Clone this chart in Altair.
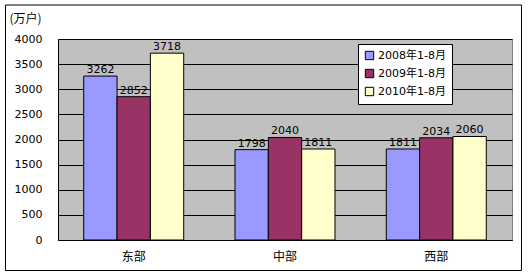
import altair as alt
import pandas as pd

regions = ["东部", "中部", "西部"]
series = ["2008年1-8月", "2009年1-8月", "2010年1-8月"]
values = {
    "2008年1-8月": [3262, 1798, 1811],
    "2009年1-8月": [2852, 2040, 2034],
    "2010年1-8月": [3718, 1811, 2060],
}
colors = ["#9999FF", "#993366", "#FFFFCC"]
y_ticks = [0, 500, 1000, 1500, 2000, 2500, 3000, 3500, 4000]

rows = []
for s in series:
    for r, v in zip(regions, values[s]):
        rows.append({"region": r, "series": s, "value": v})
df = pd.DataFrame(rows)

FONT = "DejaVu Sans, Noto Sans CJK SC"

x_enc = alt.X("region:N", sort=regions,
              scale=alt.Scale(paddingInner=0.339, paddingOuter=0.17),
              axis=alt.Axis(title=None, labelAngle=0, ticks=False, labelPadding=11,
                            labelFontSize=12, labelFont="Noto Sans CJK SC",
                            labelColor="#000000", domainColor="#000000", grid=False))
xoff = alt.XOffset("series:N", sort=series)
y_enc = alt.Y("value:Q", scale=alt.Scale(domain=[0, 4000], nice=False),
              axis=alt.Axis(values=y_ticks, format="d", labelOverlap=False,
                            title="(万户)", titleAngle=0,
                            titleX=-49, titleY=-17, titleAlign="left",
                            titleBaseline="alphabetic",
                            titleFont="Noto Sans CJK SC", titleFontSize=12,
                            titleFontWeight="normal", titleColor="#000000",
                            ticks=False, labelPadding=16, labelFontSize=11,
                            labelFont="DejaVu Sans", labelColor="#000000",
                            domainColor="#000000", gridColor="#000000",
                            gridOpacity=1, gridWidth=1))

bars = alt.Chart(df).mark_bar(stroke="#000000", strokeWidth=1, opacity=1).encode(
    x=x_enc, xOffset=xoff, y=y_enc,
    color=alt.Color("series:N", sort=series,
                    scale=alt.Scale(domain=series, range=colors),
                    legend=alt.Legend(title=None, orient="none", legendX=300, legendY=5,
                                      fillColor="#FFFFFF", strokeColor="#000000",
                                      padding=6, symbolType="square", symbolSize=70,
                                      symbolStrokeColor="#000000", symbolStrokeWidth=1,
                                      labelFont=FONT, labelFontSize=11,
                                      labelColor="#000000", rowPadding=5, labelOffset=3,
                                      cornerRadius=0))
)

labels = alt.Chart(df).mark_text(baseline="bottom", dy=-1, fontSize=11,
                                 font="DejaVu Sans", color="#000000").encode(
    x=x_enc, xOffset=xoff, y=y_enc,
    text="value:Q")

frame = alt.Chart(pd.DataFrame({"a": [0]})).mark_rect(
    fill=None, stroke="#000000", strokeWidth=1).encode(
    x=alt.value(-52.5), x2=alt.value(463.5), y=alt.value(-34), y2=alt.value(231.5))

chart = alt.layer(bars, labels, frame).properties(
    width=454, height=201,
    autosize=alt.AutoSizeParams(type="none"),
    padding={"left": 58, "top": 39, "right": 16, "bottom": 37},
    background="#FFFFFF",
).configure_view(fill="#C0C0C0", stroke="#808080", strokeWidth=1)

chart.save("out.html", embed_options={"renderer": "svg", "actions": False})
